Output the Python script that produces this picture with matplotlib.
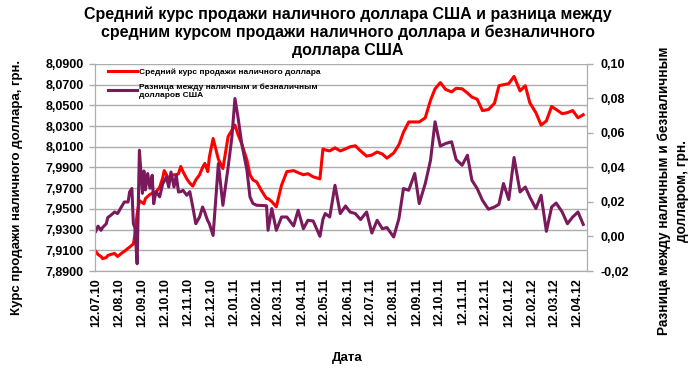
import pandas as pd
import matplotlib
matplotlib.use('Agg')
import matplotlib.pyplot as plt
import matplotlib.dates as mdates
from matplotlib.ticker import FuncFormatter

plt.rcParams['font.family'] = ['Liberation Sans', 'DejaVu Sans']

# даты наблюдений (дд.мм.гг)
dates = [
    '12.07.10', '15.07.10', '19.07.10', '21.07.10', '26.07.10', '28.07.10', '01.08.10', '06.08.10',
    '10.08.10', '15.08.10', '19.08.10', '24.08.10', '26.08.10', '29.08.10', '31.08.10', '02.09.10',
    '05.09.10', '08.09.10', '12.09.10', '14.09.10', '16.09.10', '19.09.10', '22.09.10', '25.09.10',
    '27.09.10', '30.09.10', '05.10.10', '09.10.10', '11.10.10', '14.10.10', '17.10.10', '20.10.10',
    '24.10.10', '27.10.10', '30.10.10', '02.11.10', '05.11.10', '10.11.10', '14.11.10', '18.11.10',
    '22.11.10', '27.11.10', '01.12.10', '04.12.10', '06.12.10', '08.12.10', '10.12.10', '15.12.10',
    '22.12.10', '28.12.10', '04.01.11', '09.01.11', '13.01.11', '17.01.11', '22.01.11', '29.01.11',
    '02.02.11', '06.02.11', '11.02.11', '17.02.11', '24.02.11', '26.02.11', '03.03.11', '09.03.11',
    '16.03.11', '23.03.11', '01.04.11', '07.04.11', '14.04.11', '20.04.11', '27.04.11', '06.05.11',
    '10.05.11', '13.05.11', '19.05.11', '26.05.11', '02.06.11', '09.06.11', '15.06.11', '22.06.11',
    '29.06.11', '07.07.11', '14.07.11', '21.07.11', '28.07.11', '03.08.11', '12.08.11', '19.08.11',
    '25.08.11', '01.09.11', '09.09.11', '15.09.11', '23.09.11', '30.09.11', '06.10.11', '13.10.11',
    '20.10.11', '28.10.11', '03.11.11', '11.11.11', '18.11.11', '24.11.11', '01.12.11', '08.12.11',
    '16.12.11', '24.12.11', '30.12.11', '05.01.12', '12.01.12', '19.01.12', '27.01.12', '03.02.12',
    '09.02.12', '17.02.12', '24.02.12', '02.03.12', '09.03.12', '15.03.12', '23.03.12', '30.03.12',
    '06.04.12', '13.04.12', '20.04.12',
]

# средний курс продажи наличного доллара, грн.
cash_rate = [
    7.909, 7.906, 7.904, 7.902, 7.903, 7.905, 7.906, 7.907,
    7.904, 7.907, 7.909, 7.912, 7.913, 7.915, 7.916, 7.925,
    7.945, 7.958, 7.956, 7.955, 7.960, 7.962, 7.964, 7.965,
    7.966, 7.966, 7.971, 7.980, 7.987, 7.983, 7.979, 7.982,
    7.983, 7.983, 7.984, 7.991, 7.986, 7.979, 7.975, 7.972,
    7.978, 7.983, 7.990, 7.994, 7.990, 7.986, 8.000, 8.018,
    7.998, 7.989, 8.020, 8.026, 8.031, 8.022, 8.013, 7.997,
    7.983, 7.978, 7.976, 7.968, 7.960, 7.960, 7.957, 7.952,
    7.973, 7.986, 7.987, 7.985, 7.983, 7.984, 7.981, 7.979,
    8.008, 8.007, 8.006, 8.009, 8.006, 8.008, 8.010, 8.011,
    8.006, 8.001, 8.002, 8.005, 8.003, 7.999, 8.004, 8.012,
    8.024, 8.034, 8.034, 8.034, 8.038, 8.055, 8.066, 8.072,
    8.0655, 8.063, 8.0665, 8.066, 8.062, 8.058, 8.056, 8.045,
    8.046, 8.052, 8.069, 8.070, 8.071, 8.078, 8.064, 8.069,
    8.0525, 8.043, 8.031, 8.035, 8.049, 8.046, 8.042, 8.043,
    8.045, 8.038, 8.041,
]

# разница между наличным и безналичным долларом, грн.
cash_spread = [
    0.003, 0.006, 0.0036, 0.0052, 0.0074, 0.011, 0.0123, 0.0142,
    0.0133, 0.0171, 0.020, 0.020, 0.0258, 0.0278, 0.0074, 0.0052,
    -0.0158, 0.050, 0.025, 0.038, 0.027, 0.0365, 0.028, 0.0355,
    0.019, 0.026, 0.023, 0.0307, 0.032, 0.0345, 0.0287, 0.0374,
    0.0287, 0.0355, 0.0258, 0.026, 0.0268, 0.0239, 0.026, 0.0171,
    0.0074, 0.0113, 0.0171, 0.014, 0.0113, 0.009, 0.0074, 0.0006,
    0.0423, 0.0181, 0.0403, 0.0578, 0.080, 0.0694, 0.0539, 0.0384,
    0.0229, 0.0191, 0.0181, 0.018, 0.0178, 0.0036, 0.0162, 0.0036,
    0.0113, 0.0113, 0.0061, 0.0152, 0.0045, 0.0094, 0.009, 0.0001,
    0.010, 0.0133, 0.0113, 0.0297, 0.0133, 0.0177, 0.0142, 0.0133,
    0.0098, 0.0142, 0.002, 0.0094, 0.0045, 0.0052, -0.0003, 0.0104,
    0.0278, 0.0268, 0.0365, 0.0191, 0.0307, 0.0442, 0.0665, 0.0524,
    0.0539, 0.0549, 0.0446, 0.0413, 0.0471, 0.0326, 0.0278, 0.021,
    0.0158, 0.0171, 0.0187, 0.0307, 0.0214, 0.0458, 0.0258, 0.0287,
    0.0229, 0.0162, 0.0239, 0.003, 0.0171, 0.0194, 0.0142, 0.0074,
    0.0113, 0.0142, 0.007,
]

# деления осей
rate_ticks = [7.89, 7.91, 7.93, 7.95, 7.97, 7.99, 8.01, 8.03, 8.05, 8.07, 8.09]
spread_ticks = [-0.02, 0.0, 0.02, 0.04, 0.06, 0.08, 0.10]

title = ('Средний курс продажи наличного доллара США и разница между\n'
         'средним курсом продажи наличного доллара и безналичного\n'
         'доллара США')
label_rate = 'Средний курс продажи наличного доллара'
label_spread = 'Разница между наличным и безналичным\nдолларов США'

x = pd.to_datetime(dates, format='%d.%m.%y')
month_ticks = pd.date_range('2010-07-12', '2012-04-12', freq=pd.DateOffset(months=1))

red = '#FF0000'
purple = '#7A1A5C'
grid_gray = '#ADADAD'

fig = plt.figure(figsize=(6.96, 3.74), dpi=100)
ax = fig.add_axes([0.1365, 0.2754, 0.7069, 0.5535])
ax2 = ax.twinx()

l1, = ax.plot(x, cash_rate, color=red, lw=2.2, solid_joinstyle='round')
l2, = ax2.plot(x, cash_spread, color=purple, lw=2.2, solid_joinstyle='round')

ax.set_ylim(rate_ticks[0], rate_ticks[-1])
ax.set_yticks(rate_ticks)
ax.yaxis.set_major_formatter(FuncFormatter(lambda v, p: f'{v:.4f}'.replace('.', ',')))
ax2.set_ylim(spread_ticks[0], spread_ticks[-1])
ax2.set_yticks(spread_ticks)
ax2.yaxis.set_major_formatter(FuncFormatter(lambda v, p: f'{v:.2f}'.replace('.', ',')))

ax.set_xlim(pd.Timestamp('2010-07-11'), pd.Timestamp('2012-04-25'))
ax.set_xticks(month_ticks)
ax.xaxis.set_major_formatter(mdates.DateFormatter('%d.%m.%y'))

ax.grid(axis='y', color=grid_gray, lw=1)
ax.set_axisbelow(True)

for a in (ax, ax2):
    for s in a.spines.values():
        s.set_color(grid_gray)
    a.spines['top'].set_visible(False)
    a.tick_params(colors=grid_gray, labelcolor='black', length=4, width=1)

for lab in ax.get_xticklabels():
    lab.set_rotation(90)
    lab.set_fontsize(9)
    lab.set_fontweight('bold')
for lab in ax.get_yticklabels() + ax2.get_yticklabels():
    lab.set_fontsize(9)
    lab.set_fontweight('bold')
ax.tick_params(axis='x', length=0, pad=5)
ax.tick_params(axis='y', pad=4)
ax2.tick_params(axis='y', pad=6)

fig.text(0.5, 0.983, title, ha='center', va='top', fontsize=11.5, fontweight='bold', linespacing=1.22)
fig.text(0.024, 0.50, 'Курс продажи наличного доллара, грн.', rotation=90,
         ha='center', va='center', fontsize=9.5, fontweight='bold')
fig.text(0.967, 0.49, 'Разница между наличным и безналичным\nдолларом, грн.', rotation=90,
         ha='center', va='center', fontsize=9.8, fontweight='bold', linespacing=1.3)
fig.text(0.4986, 0.042, 'Дата', ha='center', va='center', fontsize=9.5, fontweight='bold')

leg = ax.legend([l1, l2], [label_rate, label_spread], loc='upper left',
                bbox_to_anchor=(0.015, 1.01), frameon=False,
                prop={'size': 6, 'weight': 'bold'}, handlelength=3.4,
                handletextpad=0.3, labelspacing=0.9, borderaxespad=0.3)

fig.savefig('out.png', dpi=100)
